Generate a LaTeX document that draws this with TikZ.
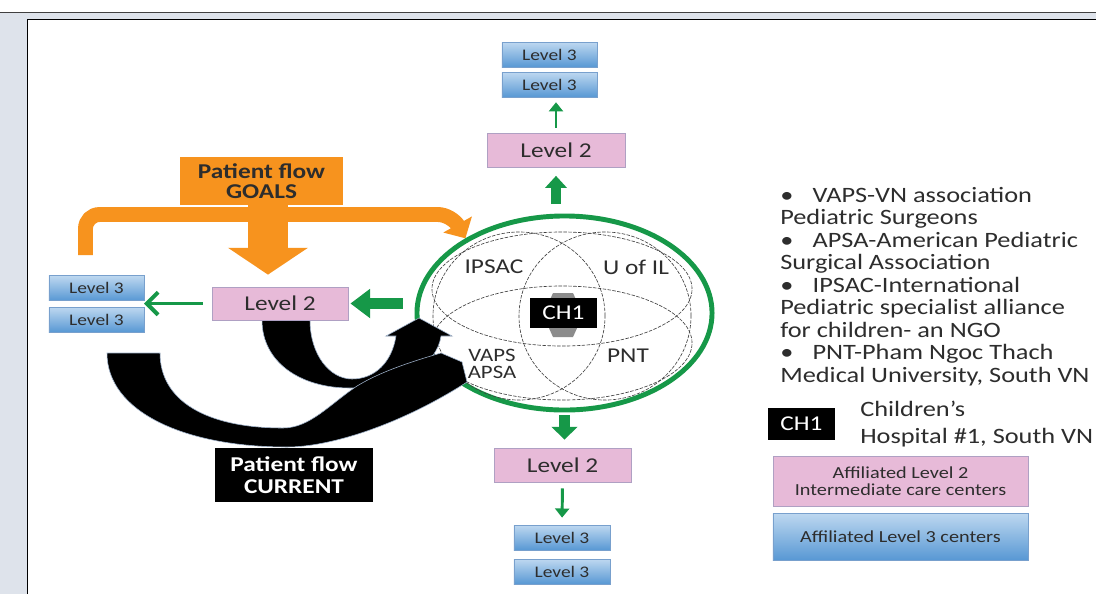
\documentclass[tikz,border=0pt]{standalone}
\usepackage{fontspec}
\setmainfont{Carlito}[FakeStretch=1.2]
\usetikzlibrary{arrows.meta,shapes.geometric}
\pgfdeclarelayer{back}
\pgfdeclarelayer{bg}
\pgfsetlayers{back,bg,main}
\definecolor{orangeC}{RGB}{247,147,30}
\definecolor{greenC}{RGB}{22,152,72}
\definecolor{pinkC}{RGB}{231,186,216}
\definecolor{pinkB}{RGB}{175,160,195}
\definecolor{blueT}{RGB}{190,216,240}
\definecolor{blueD}{RGB}{88,152,212}
\definecolor{blueB}{RGB}{120,160,205}
\definecolor{panelC}{RGB}{222,227,235}
\definecolor{textC}{RGB}{45,45,45}
\definecolor{edgeC}{RGB}{160,180,205}
\begin{document}
\begin{tikzpicture}[x=0.025cm,y=-0.025cm,
  lvthree/.style={draw=blueB, line width=0.5pt, top color=blueT, bottom color=blueD,
    minimum width=2.375cm, minimum height=0.625cm, inner sep=0pt,
    font=\fontsize{11.5}{12}\selectfont, text=textC},
  lvtwo/.style={draw=pinkB, line width=0.6pt, fill=pinkC,
    minimum width=3.45cm, minimum height=0.85cm, inner sep=0pt,
    font=\fontsize{15}{16}\selectfont, text=textC},
  gthick/.style={greenC, line width=7.1pt, -{Triangle[length=8.5pt,width=15pt]}},
  gthin/.style={greenC, line width=2.1pt, -{Triangle[length=6.5pt,width=10pt]}},
  venn/.style={draw=black!75, line width=0.45pt, dash pattern=on 2.5pt off 1pt},
  vlabel/.style={font=\fontsize{15}{16}\selectfont, text=textC, inner sep=0pt},
  legtxt/.style={anchor=base west, inner sep=0pt, font=\fontsize{15.6}{16}\selectfont, text=textC},
  blackbox/.style={fill=black, text=white, inner sep=0pt}
]
\useasboundingbox (0,0) rectangle (1096,594);
\begin{pgfonlayer}{back}
\fill[white] (0,0) rectangle (1096,594);
\fill[panelC] (0,12.5) rectangle (1096,594);
\draw[line width=1pt, black!75] (0,12.5) -- (1096,12.5);
\fill[white] (27.5,19.5) rectangle (1096,594);
\draw[line width=1.4pt] (27.5,594) -- (27.5,19.5) -- (1096,19.5);
\end{pgfonlayer}

% hub
\node[ellipse, draw=greenC, line width=3.5pt, minimum width=7.375cm, minimum height=4.85cm, inner sep=0pt] (hub) at (564.5,313) {};

% venn
\draw[venn] (519,316) ellipse [x radius=2.15cm, y radius=2.1cm];
\draw[venn] (605,316) ellipse [x radius=2.15cm, y radius=2.1cm];
\draw[venn] (562,289) ellipse [x radius=3.25cm, y radius=1.425cm];
\draw[venn] (562,343) ellipse [x radius=3.25cm, y radius=1.425cm];
\fill[black!45] (553,293) -- (573,293) -- (583,315) -- (573,337) -- (553,337) -- (543,315) -- cycle;
\node[blackbox, minimum width=1.675cm, minimum height=0.75cm, font=\fontsize{15}{16}\selectfont] (ch1) at (563.5,313) {CH1};
\node[vlabel] (ipsac) at (494,267) {IPSAC};
\node[vlabel] (uofil) at (636,267) {U of IL};
\node[vlabel, align=center, font=\fontsize{13.5}{12}\selectfont] (vaps) at (492,364) {VAPS\\APSA};
\node[vlabel] (pnt) at (628,356) {PNT};

% top branch
\node[lvthree] (t3a) at (549.5,54.5) {Level 3};
\node[lvthree] (t3b) at (549.5,84.5) {Level 3};
\node[lvtwo] (t2) at (556,150) {Level 2};
\draw[gthick, shorten <=6.7pt, shorten >=6pt] (t2.south |- hub.north) -- (t2.south);
\draw[gthin, shorten <=3.5pt, shorten >=3.5pt] (t2.north) -- (t2.north |- t3b.south);

% bottom branch
\node[lvtwo, minimum width=3.425cm] (b2) at (562.5,465) {Level 2};
\node[lvthree, minimum width=2.4cm] (b3a) at (562,537.5) {Level 3};
\node[lvthree, minimum width=2.4cm] (b3b) at (562,571.5) {Level 3};
\draw[greenC, line width=7.8pt, -{Triangle[length=9pt,width=18pt]}, shorten <=2pt, shorten >=5.7pt] (hub.south) -- (hub.south |- b2.north);
\draw[gthin, shorten <=4.3pt, shorten >=5pt] (b2.south) -- (b3a.north);

% orange goals
\node[fill=orangeC, minimum width=4.075cm, minimum height=1.2cm, inner sep=0pt, align=center,
  font=\bfseries\fontsize{15}{14.5}\selectfont, text=textC] (goals) at (261.5,181) {Patient flow\\GOALS};
\coordinate (ostart) at (85.5,255);
\begin{pgfonlayer}{bg}
\draw[orangeC, line width=10.6pt, rounded corners=10pt, -{Triangle[length=11.3pt,width=22.7pt]}]
  (ostart) -- (85.5,214.5) -- (452,214.5) -- (hub.143);
\end{pgfonlayer}

% left branch
\node[lvthree] (l3a) at (96.5,288) {Level 3};
\node[lvthree] (l3b) at (96.5,319.5) {Level 3};
\coordinate (l3mid) at (144,303.5);

% black current arrows
\filldraw[fill=black, draw=edgeC, line width=0.4pt]
  (262,320) .. controls (262,362) and (300,388) .. (350,388)
  .. controls (400,388) and (437,365) .. (441,336)
  -- (452,336) -- (419,318) -- (386,336) -- (396,336)
  .. controls (392,362) and (375,379) .. (352,379)
  .. controls (330,379) and (310,355) .. (310,320) -- cycle;
\filldraw[fill=black, draw=edgeC, line width=0.4pt]
  (107,353) .. controls (107,412) and (185,447) .. (287,447)
  .. controls (330,447) and (400,425) .. (467,382)
  -- (462,362) -- (441,353)
  .. controls (410,362) and (380,372) .. (357,386)
  .. controls (330,404) and (310,428) .. (283,428)
  .. controls (205,428) and (160,400) .. (160,353) -- cycle;

\node[lvtwo, minimum width=3.4cm, minimum height=0.825cm] (l2) at (280,303.5) {Level 2};
\draw[greenC, line width=8.5pt, -{Triangle[length=14pt,width=20pt]}, shorten <=8.5pt, shorten >=1.4pt] (hub.west |- l2.east) -- (l2.east);
\draw[greenC, line width=2.8pt, -{Straight Barb[length=8pt,width=16pt]}, shorten <=6.4pt] (l2.west) -- (l3mid);
\begin{pgfonlayer}{bg}
\draw[orangeC, line width=28.3pt, -{Triangle[length=19.1pt,width=56pt]}, shorten >=8.5pt]
  ([xshift=4.6pt]goals.south) -- ([xshift=4.6pt]goals.south |- l2.north);
\end{pgfonlayer}

\node[blackbox, minimum width=3.95cm, minimum height=1.35cm, align=center,
  font=\bfseries\fontsize{15}{15.6}\selectfont] (current) at (294,475) {Patient flow\\CURRENT};

% legend
\node[legtxt] (g1) at (780,202) {\makebox[23pt][l]{•}VAPS-VN association};
\node[legtxt] (g2) at (780,224.5) {Pediatric Surgeons};
\node[legtxt] (g3) at (780,247) {\makebox[23pt][l]{•}APSA-American Pediatric};
\node[legtxt] (g4) at (780,269.5) {Surgical Association};
\node[legtxt] (g5) at (780,292) {\makebox[23pt][l]{•}IPSAC-International};
\node[legtxt] (g6) at (780,314.5) {Pediatric specialist alliance};
\node[legtxt] (g7) at (780,337) {for children- an NGO};
\node[legtxt] (g8) at (780,359.5) {\makebox[23pt][l]{•}PNT-Pham Ngoc Thach};
\node[legtxt] (g9) at (780,382) {Medical University, South VN};

\node[blackbox, minimum width=1.675cm, minimum height=0.8cm, font=\fontsize{15}{16}\selectfont] (lch1) at (801.5,424) {CH1};
\node[legtxt] (lc1) at (860,416) {Children’s};
\node[legtxt] (lc2) at (860,443) {Hospital \#1, South VN};
\node[draw=pinkB, line width=0.6pt, fill=pinkC, minimum width=6.375cm, minimum height=1.25cm, inner sep=0pt,
  align=center, font=\fontsize{12}{12}\selectfont, text=textC] (lp) at (900.5,481) {Affiliated Level 2\\Intermediate care centers};
\node[draw=blueB, line width=0.5pt, top color=blueT, bottom color=blueD, minimum width=6.375cm, minimum height=1.175cm,
  inner sep=0pt, font=\fontsize{12}{12}\selectfont, text=textC] (lb) at (900.5,536.5) {Affiliated Level 3 centers};
\end{tikzpicture}
\end{document}
